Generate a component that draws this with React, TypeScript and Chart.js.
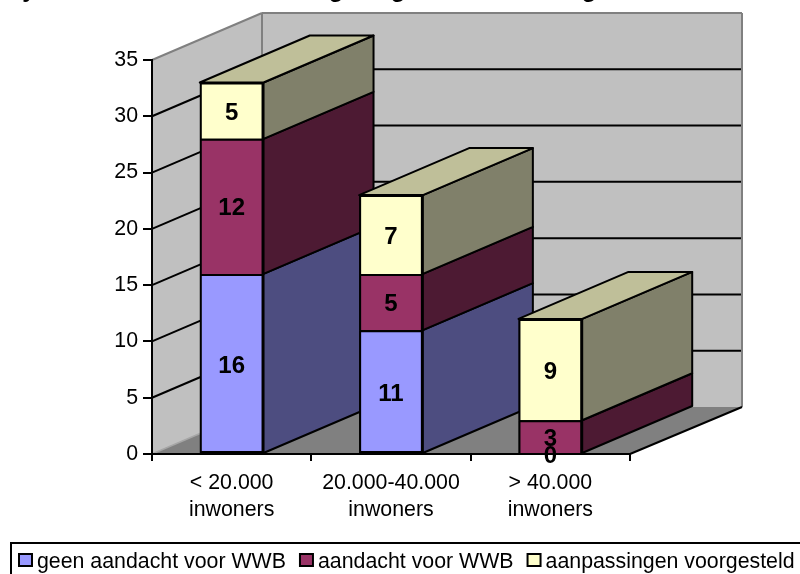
import React, { useEffect, useRef } from "react";
import { Chart, registerables } from "chart.js";

Chart.register(...registerables);

const categories = [
  ["< 20.000", "inwoners"],
  ["20.000-40.000", "inwoners"],
  ["> 40.000", "inwoners"],
];
const seriesNames = ["geen aandacht voor WWB", "aandacht voor WWB", "aanpassingen voorgesteld"];
const geenAandacht = [16, 11, 0];
const aandacht = [12, 5, 3];
const aanpassingen = [5, 7, 9];

const frontColors = ["#9999FF", "#993366", "#FFFFCC"];
const sideColors = ["#4D4D80", "#4D1A33", "#80806A"];
const topColors = ["#BFBF99", "#BFBF99", "#BFBF99"];

// The heading sits above the canvas edge; only these letters dip into view.
const headingDescenders = [
  { text: "y", x: 29 },
  { text: "g", x: 336 },
  { text: "g", x: 398 },
  { text: "g", x: 589 },
];

const FONT = '"Liberation Sans", Arial, sans-serif';
const DEPTH_X = 110;
const DEPTH_Y = -47;

function polygon(ctx: CanvasRenderingContext2D, pts: number[][], fill: string, stroke?: string, lw = 2) {
  ctx.beginPath();
  pts.forEach(([x, y], i) => (i ? ctx.lineTo(x, y) : ctx.moveTo(x, y)));
  ctx.closePath();
  ctx.fillStyle = fill;
  ctx.fill();
  if (stroke) {
    ctx.strokeStyle = stroke;
    ctx.lineWidth = lw;
    ctx.stroke();
  }
}

function line(ctx: CanvasRenderingContext2D, x1: number, y1: number, x2: number, y2: number, color: string, lw = 2) {
  ctx.beginPath();
  ctx.moveTo(x1, y1);
  ctx.lineTo(x2, y2);
  ctx.strokeStyle = color;
  ctx.lineWidth = lw;
  ctx.stroke();
}

// Back wall, side wall, floor and the gridlines that run across them.
const roomPlugin = {
  id: "room",
  beforeDraw(chart: any) {
    const { ctx, chartArea: a, scales } = chart;
    const y = scales.y;
    const backL = a.left + DEPTH_X;
    const backR = a.right + DEPTH_X + 2;
    const top = y.getPixelForValue(35);
    const base = y.getPixelForValue(0);
    ctx.save();
    polygon(ctx, [[backL, top + DEPTH_Y], [backR, top + DEPTH_Y], [backR, base + DEPTH_Y], [backL, base + DEPTH_Y]], "#C0C0C0");
    polygon(ctx, [[a.left, top], [backL, top + DEPTH_Y], [backL, base + DEPTH_Y], [a.left, base]], "#C0C0C0");
    polygon(ctx, [[a.left, base], [a.right, base], [backR, base + DEPTH_Y], [backL, base + DEPTH_Y]], "#808080");
    for (const tick of y.ticks) {
      if (tick.value === 0 || tick.value === 35) continue;
      const py = y.getPixelForValue(tick.value);
      line(ctx, a.left, py, backL, py + DEPTH_Y, "#000");
      line(ctx, backL, py + DEPTH_Y, backR, py + DEPTH_Y, "#000");
    }
    line(ctx, a.left, top, backL, top + DEPTH_Y, "#808080");
    line(ctx, backL, top + DEPTH_Y, backR, top + DEPTH_Y, "#808080");
    line(ctx, backL, top + DEPTH_Y, backL, base + DEPTH_Y, "#808080");
    line(ctx, backR, top + DEPTH_Y, backR, base + DEPTH_Y, "#808080");
    line(ctx, a.left, base, backL, base + DEPTH_Y, "#A6A6A6", 1.5);
    line(ctx, a.right, base, backR, base + DEPTH_Y, "#000");
    ctx.restore();
  },
  // Side and top faces go down before the native front faces, column by column.
  beforeDatasetsDraw(chart: any) {
    const { ctx } = chart;
    const metas = chart.data.datasets.map((_: any, i: number) => chart.getDatasetMeta(i));
    ctx.save();
    ctx.lineJoin = "round";
    categories.forEach((_, col) => {
      let topSeg: any = null;
      let topIndex = 0;
      metas.forEach((meta: any, s: number) => {
        const el = meta.data[col];
        if (Math.abs(el.base - el.y) < 0.5) return;
        const r = el.x + el.width / 2;
        polygon(
          ctx,
          [[r, el.y], [r + DEPTH_X, el.y + DEPTH_Y], [r + DEPTH_X, el.base + DEPTH_Y], [r, el.base]],
          sideColors[s],
          "#000"
        );
        topSeg = el;
        topIndex = s;
      });
      if (topSeg) {
        const l = topSeg.x - topSeg.width / 2;
        const r = topSeg.x + topSeg.width / 2;
        polygon(
          ctx,
          [[l, topSeg.y], [r, topSeg.y], [r + DEPTH_X, topSeg.y + DEPTH_Y], [l + DEPTH_X, topSeg.y + DEPTH_Y]],
          topColors[topIndex],
          "#000"
        );
        // Solid backing so nothing behind shows through the seams between segments.
        const floorY = metas[0].data[col].base;
        ctx.fillStyle = "#000";
        ctx.fillRect(l, topSeg.y, r - l, floorY - topSeg.y);
      }
    });
    ctx.restore();
  },
};

// Value labels centred on each stacked segment.
const valueLabelPlugin = {
  id: "valueLabels",
  afterDatasetsDraw(chart: any) {
    const { ctx } = chart;
    ctx.save();
    ctx.font = `bold 24px ${FONT}`;
    ctx.fillStyle = "#000";
    ctx.textAlign = "center";
    ctx.textBaseline = "middle";
    chart.data.datasets.forEach((ds: any, s: number) => {
      chart.getDatasetMeta(s).data.forEach((el: any, i: number) => {
        ctx.fillText(String(ds.data[i]), el.x, (el.y + el.base) / 2 + 2.5);
      });
    });
    ctx.restore();
  },
};

// Framed legend along the bottom edge, plus the letters of the cut-off heading.
const legendFramePlugin = {
  id: "legendFrame",
  afterDraw(chart: any) {
    const { ctx, width } = chart;
    ctx.save();
    ctx.strokeStyle = "#000";
    ctx.lineWidth = 2;
    ctx.strokeRect(11, 543, width, 80);
    ctx.font = `21.33px ${FONT}`;
    ctx.textAlign = "left";
    ctx.textBaseline = "alphabetic";
    let x = 19;
    chart.data.datasets.forEach((ds: any) => {
      ctx.fillStyle = ds.backgroundColor;
      ctx.fillRect(x, 554, 13, 12);
      ctx.strokeRect(x, 554, 13, 12);
      ctx.fillStyle = "#000";
      ctx.fillText(ds.label, x + 18, 568);
      x += 18 + ctx.measureText(ds.label).width + 14;
    });
    ctx.font = `bold 24px ${FONT}`;
    ctx.textAlign = "center";
    for (const d of headingDescenders) ctx.fillText(d.text, d.x, -3);
    ctx.restore();
  },
};

export default function App() {
  const ref = useRef<HTMLCanvasElement>(null);

  useEffect(() => {
    const values = [geenAandacht, aandacht, aanpassingen];
    const chart = new Chart(ref.current as HTMLCanvasElement, {
      type: "bar",
      data: {
        labels: categories as any,
        datasets: values.map((data, i) => ({
          label: seriesNames[i],
          data,
          backgroundColor: frontColors[i],
          borderColor: "#000",
          borderWidth: { top: 2, left: 2, right: 2, bottom: i === 0 ? 2 : 0 },
          borderSkipped: false,
          categoryPercentage: 0.4,
          barPercentage: 1,
        })),
      } as any,
      options: {
        animation: false,
        responsive: false,
        layout: { padding: { top: 60, left: 0, right: 170, bottom: 0 } },
        plugins: { legend: { display: false }, title: { display: false }, tooltip: { enabled: false } },
        scales: {
          x: {
            stacked: true,
            offset: true,
            afterFit: (s: any) => {
              s.height = 120;
            },
            grid: {
              offset: true,
              drawOnChartArea: false,
              drawTicks: true,
              tickLength: 7,
              color: "#000",
              lineWidth: 2,
            },
            border: { color: "#000", width: 2 },
            ticks: {
              color: "#000",
              autoSkip: false,
              maxRotation: 0,
              padding: 8,
              font: { family: FONT, size: 21.33, lineHeight: 1.29 },
            },
          },
          y: {
            stacked: true,
            min: 0,
            max: 35,
            afterFit: (s: any) => {
              s.width = 152;
            },
            grid: {
              drawOnChartArea: false,
              drawTicks: true,
              tickLength: 9,
              color: "#000",
              lineWidth: 2,
            },
            border: { color: "#000", width: 2 },
            ticks: {
              stepSize: 5,
              color: "#000",
              padding: 5,
              font: { family: FONT, size: 21.33 },
            },
          },
        },
      } as any,
      plugins: [roomPlugin, valueLabelPlugin, legendFramePlugin],
    });
    return () => chart.destroy();
  }, []);

  return (
    <div style={{ position: "absolute", left: 0, top: 0, width: 800, height: 574, overflow: "hidden", background: "#fff" }}>
      <canvas ref={ref} width={800} height={574} style={{ display: "block" }} />
    </div>
  );
}
